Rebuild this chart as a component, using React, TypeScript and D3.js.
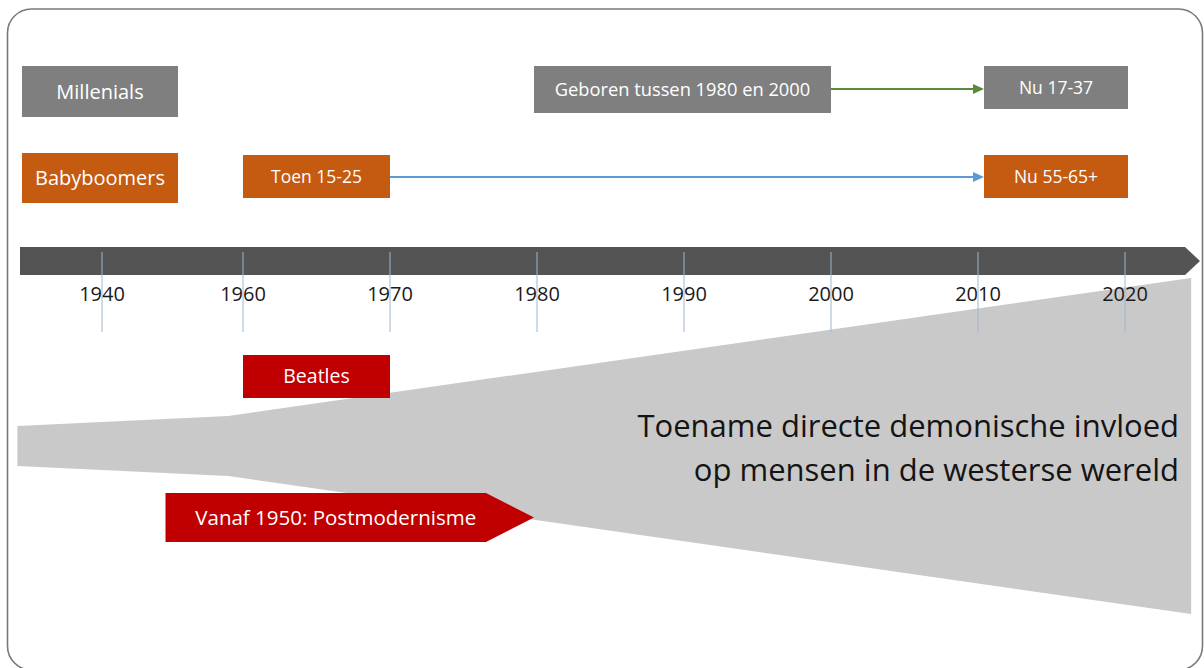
import React from "react";
import * as d3 from "d3";

// ---- data ----
const tickYears = [1940, 1960, 1970, 1980, 1990, 2000, 2010, 2020];
const tickLabels = ["1940", "1960", "1970", "1980", "1990", "2000", "2010", "2020"];

const generationLabels = ["Millenials", "Babyboomers"];
const generationColors = ["#7f7f7f", "#c55a11"];

// millennials row
const millThenLabel = "Geboren tussen 1980 en 2000";
const millThenSpan = [1980, 2000];
const millNowLabel = "Nu 17-37";
const millNowSpan = [2010, 2020];

// babyboomers row
const boomThenLabel = "Toen 15-25";
const boomThenSpan = [1960, 1970];
const boomNowLabel = "Nu 55-65+";
const boomNowSpan = [2010, 2020];

// events
const beatlesLabel = "Beatles";
const beatlesSpan = [1960, 1970];
const postmodLabel = "Vanaf 1950: Postmodernisme";
const postmodSpan = [1950, 1980];

// funnel of growing influence
const influenceYears = [1928, 1957.9, 2024.5];
const influenceValues = [1, 1.5, 8.4];
const influenceText = ["Toename directe demonische invloed", "op mensen in de westerse wereld"];

export default function App() {
  const W = 1204, H = 668;
  const x = d3.scaleLinear().domain([1940, 1960, 2020]).range([102, 243, 1125]);
  const half = d3.scaleLinear().domain([0, 1]).range([0, 20]);
  const cy = 446;

  const funnelData = influenceYears.map((y, i) => ({ year: y, v: influenceValues[i] }));
  const area = d3
    .area<{ year: number; v: number }>()
    .x((d) => x(d.year))
    .y0((d) => cy - half(d.v))
    .y1((d) => cy + half(d.v));

  const font = "'Open Sans', sans-serif";

  const box = (
    x0: number, x1: number, y0: number, y1: number, fill: string,
    label: string, size: number, key: string
  ) => (
    <g key={key}>
      <rect x={x0} y={y0} width={x1 - x0} height={y1 - y0} fill={fill} />
      <text x={(x0 + x1) / 2} y={(y0 + y1) / 2} dy="0.35em" textAnchor="middle"
        fill="#fff" fontSize={size} fontFamily={font}>{label}</text>
    </g>
  );

  // bar
  const barL = 20, barR = 1185, barTip = 1200, barT = 247, barB = 275;
  const barPath = `M${barL},${barT}L${barR},${barT}L${barTip},${(barT + barB) / 2}L${barR},${barB}L${barL},${barB}Z`;

  // postmodernism arrow
  const pmL = x(postmodSpan[0]) - 7, pmTip = x(postmodSpan[1]) - 3, pmBody = pmTip - 48;
  const pmT = 493, pmB = 542;
  const pmPath = `M${pmL},${pmT}L${pmBody},${pmT}L${pmTip},${(pmT + pmB) / 2}L${pmBody},${pmB}L${pmL},${pmB}Z`;

  const arrow = (x0: number, x1: number, y: number, color: string, key: string) => (
    <g key={key}>
      <line x1={x0} x2={x1 - 9} y1={y} y2={y} stroke={color} strokeWidth={1.8} />
      <path d={`M${x1 - 11},${y - 5}L${x1},${y}L${x1 - 11},${y + 5}Z`} fill={color} />
    </g>
  );

  const nowL = (s: number[]) => x(s[0]) + 6;

  return (
    <svg width={W} height={H} style={{ position: "absolute", left: 0, top: 0, background: "#fff" }}>
      <rect x={7.5} y={9} width={1195} height={661} rx={24} ry={24} fill="#fff" stroke="#7a7a7a" strokeWidth={1.6} />

      {/* funnel */}
      <path d={area(funnelData) || ""} fill="#c9c9c9" />

      {/* generation labels */}
      {box(22, 178, 66, 117, generationColors[0], generationLabels[0], 20, "g0")}
      {box(22, 178, 153, 203, generationColors[1], generationLabels[1], 20, "g1")}

      {/* millennials row */}
      {arrow(x(millThenSpan[1]), nowL(millNowSpan), 89, "#5a8a3a", "a0")}
      {box(x(millThenSpan[0]) - 3, x(millThenSpan[1]), 66, 113, generationColors[0], millThenLabel, 18.3, "m0")}
      {box(nowL(millNowSpan), x(millNowSpan[1]) + 3, 66, 109, generationColors[0], millNowLabel, 17.5, "m1")}

      {/* boomers row */}
      {arrow(x(boomThenSpan[1]), nowL(boomNowSpan), 177, "#5b9bd5", "a1")}
      {box(x(boomThenSpan[0]), x(boomThenSpan[1]), 155, 198, generationColors[1], boomThenLabel, 17.5, "b0")}
      {box(nowL(boomNowSpan), x(boomNowSpan[1]) + 3, 155, 198, generationColors[1], boomNowLabel, 17.5, "b1")}

      {/* timeline */}
      <path d={barPath} fill="#545454" />
      {tickYears.map((y, i) => (
        <text key={"t" + y} x={x(y)} y={301} textAnchor="middle" fontSize={20} fill="#1a1a1a" fontFamily={font}>
          {tickLabels[i]}
        </text>
      ))}
      {tickYears.map((y) => (
        <line key={"l" + y} x1={x(y)} x2={x(y)} y1={252} y2={332} stroke="#9fb6cc" strokeWidth={1} />
      ))}

      {/* events */}
      {box(x(beatlesSpan[0]), x(beatlesSpan[1]), 355, 398, "#c00000", beatlesLabel, 19.5, "e0")}
      <path d={pmPath} fill="#c00000" />
      <text x={(pmL + pmBody) / 2 + 10} y={(pmT + pmB) / 2} dy="0.35em" textAnchor="middle" fill="#fff"
        fontSize={20.5} fontFamily={font}>{postmodLabel}</text>

      {/* funnel text */}
      {influenceText.map((t, i) => (
        <text key={"f" + i} x={1179} y={437 + i * 44} textAnchor="end" fontSize={31} fill="#141414" fontFamily={font}>
          {t}
        </text>
      ))}
    </svg>
  );
}
